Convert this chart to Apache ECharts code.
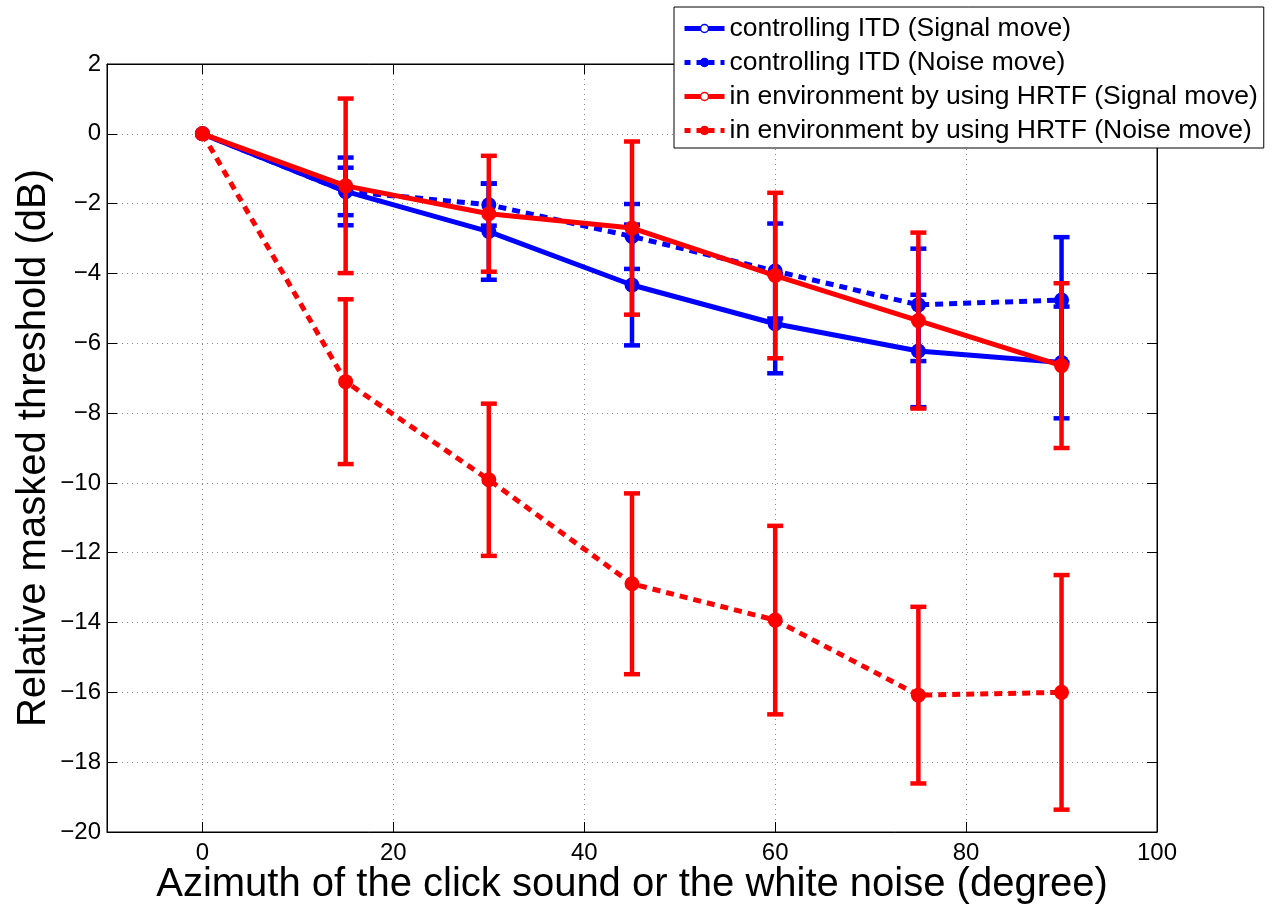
<!DOCTYPE html>
<html>
<head>
<meta charset="utf-8">
<script src="https://cdn.jsdelivr.net/npm/echarts@6/dist/echarts.min.js"></script>
<style>html,body{margin:0;padding:0;background:#fff}#c{width:1279px;height:909px}</style>
</head>
<body>
<div id="c"></div>
<script>
const azimuth = [0, 15, 30, 45, 60, 75, 90];
const seriesNames = [
  'controlling ITD (Signal move)',
  'controlling ITD (Noise move)',
  'in environment by using HRTF (Signal move)',
  'in environment by using HRTF (Noise move)'
];
const itdSignal = [0, -1.65, -2.80, -4.33, -5.44, -6.22, -6.55];
const itdNoise = [0, -1.65, -2.03, -2.94, -3.93, -4.90, -4.76];
const hrtfSignal = [0, -1.49, -2.29, -2.70, -4.06, -5.35, -6.64];
const hrtfNoise = [0, -7.10, -9.91, -12.89, -13.93, -16.08, -16.00];
// error bar half-lengths (none at 0)
const itdSignalErr = [null, 0.97, 1.38, 1.73, 1.42, 1.61, 1.60];
const itdNoiseErr = [null, 0.68, 0.60, 0.93, 1.36, 1.61, 1.80];
const hrtfSignalErr = [null, 2.50, 1.66, 2.48, 2.37, 2.52, 2.36];
const hrtfNoiseErr = [null, 2.36, 2.18, 2.59, 2.70, 2.53, 3.36];
const xTicks = [0, 20, 40, 60, 80, 100];

const BLUE = '#0000ff', RED = '#ff0000';
const FONT = 'Liberation Sans, Arial, Helvetica, sans-serif';
const fmt = v => String(v).replace('-', '\u2212');
const seriesColors = [BLUE, BLUE, RED, RED];
const seriesDashed = [false, true, false, true];

function lineSeries(name, vals, color, dashed, z) {
  return {
    name: name, type: 'line', z: z,
    data: azimuth.map((x, i) => [x, vals[i]]),
    symbol: 'circle', symbolSize: 15,
    itemStyle: { color: color },
    lineStyle: { color: color, width: 5, type: dashed ? [8, 6] : 'solid' },
    emphasis: { disabled: true }, animation: false
  };
}
function errSeries(vals, errs, color, z) {
  const d = [];
  azimuth.forEach((x, i) => { if (errs[i] != null) d.push([x, vals[i] - errs[i], vals[i] + errs[i]]); });
  return {
    type: 'custom', z: z, animation: false, silent: true,
    data: d,
    encode: { x: 0, y: [1, 2] },
    renderItem: function (params, api) {
      const lo = api.coord([api.value(0), api.value(1)]);
      const hi = api.coord([api.value(0), api.value(2)]);
      const hw = 8;
      const st = { stroke: color, lineWidth: 4.5 };
      return {
        type: 'group',
        children: [
          { type: 'line', shape: { x1: lo[0], y1: lo[1], x2: hi[0], y2: hi[1] }, style: st },
          { type: 'line', shape: { x1: lo[0] - hw, y1: lo[1], x2: lo[0] + hw, y2: lo[1] }, style: st },
          { type: 'line', shape: { x1: hi[0] - hw, y1: hi[1], x2: hi[0] + hw, y2: hi[1] }, style: st }
        ]
      };
    }
  };
}

const legendData = seriesNames.map((n, i) => ({
  name: n,
  itemStyle: {
    color: seriesDashed[i] ? seriesColors[i] : '#fff',
    borderColor: seriesColors[i], borderWidth: 1.5
  },
  lineStyle: { color: seriesColors[i], width: 5, type: seriesDashed[i] ? [6, 6] : 'solid' }
}));

const chart = echarts.init(document.getElementById('c'), null, { renderer: 'canvas' });
const labelFont = { fontFamily: FONT, fontSize: 24, color: '#000' };
const axisLineStyle = { show: true, onZero: false, lineStyle: { color: '#000', width: 1 } };
chart.setOption({
  backgroundColor: '#fff',
  animation: false,
  grid: { left: 107, right: 122, top: 64, bottom: 77, outerBoundsMode: 'none', containLabel: false, show: true, borderColor: '#000', borderWidth: 1, backgroundColor: '#fff' },
  legend: {
    data: legendData,
    orient: 'vertical', left: 674, top: 7,
    backgroundColor: '#fff', borderColor: '#000', borderWidth: 1,
    padding: [8, 6, 4, 8],
    itemWidth: 40, itemHeight: 10, itemGap: 7,
    textStyle: { fontFamily: FONT, fontSize: 26.5, color: '#000', padding: [0, 0, 0, 0] },
    selectedMode: false
  },
  xAxis: [{
    type: 'value', min: -10, max: 100, position: 'bottom',
    axisLine: axisLineStyle,
    axisTick: { show: true, inside: true, length: 10, customValues: xTicks, lineStyle: { color: '#000' } },
    axisLabel: Object.assign({ customValues: xTicks, margin: 9, formatter: fmt }, labelFont),
    splitLine: { show: true, lineStyle: { color: '#888', type: [1, 4], width: 1 } },
    name: 'Azimuth of the click sound or the white noise (degree)',
    nameLocation: 'middle', nameGap: 33, nameMoveOverlap: false,
    nameTextStyle: { fontFamily: FONT, fontSize: 40, color: '#000' }
  }, {
    type: 'value', min: -10, max: 100, position: 'top',
    axisLine: axisLineStyle,
    axisTick: { show: true, inside: true, length: 10, customValues: xTicks, lineStyle: { color: '#000' } },
    axisLabel: { show: false }, splitLine: { show: false }
  }],
  yAxis: [{
    type: 'value', min: -20, max: 2, interval: 2, position: 'left',
    axisLine: axisLineStyle,
    axisTick: { show: true, inside: true, length: 10, lineStyle: { color: '#000' } },
    axisLabel: Object.assign({ margin: 6, formatter: fmt }, labelFont),
    splitLine: { show: true, lineStyle: { color: '#888', type: [1, 4], width: 1 } },
    name: 'Relative masked threshold (dB)',
    nameLocation: 'middle', nameGap: 53, nameMoveOverlap: false,
    nameTextStyle: { fontFamily: FONT, fontSize: 40, color: '#000' }
  }, {
    type: 'value', min: -20, max: 2, interval: 2, position: 'right',
    axisLine: axisLineStyle,
    axisTick: { show: true, inside: true, length: 10, lineStyle: { color: '#000' } },
    axisLabel: { show: false }, splitLine: { show: false }
  }],
  series: [
    errSeries(itdSignal, itdSignalErr, BLUE, 2),
    lineSeries(seriesNames[0], itdSignal, BLUE, false, 3),
    errSeries(itdNoise, itdNoiseErr, BLUE, 4),
    lineSeries(seriesNames[1], itdNoise, BLUE, true, 5),
    errSeries(hrtfSignal, hrtfSignalErr, RED, 6),
    lineSeries(seriesNames[2], hrtfSignal, RED, false, 7),
    errSeries(hrtfNoise, hrtfNoiseErr, RED, 8),
    lineSeries(seriesNames[3], hrtfNoise, RED, true, 9)
  ]
});
</script>
</body>
</html>
